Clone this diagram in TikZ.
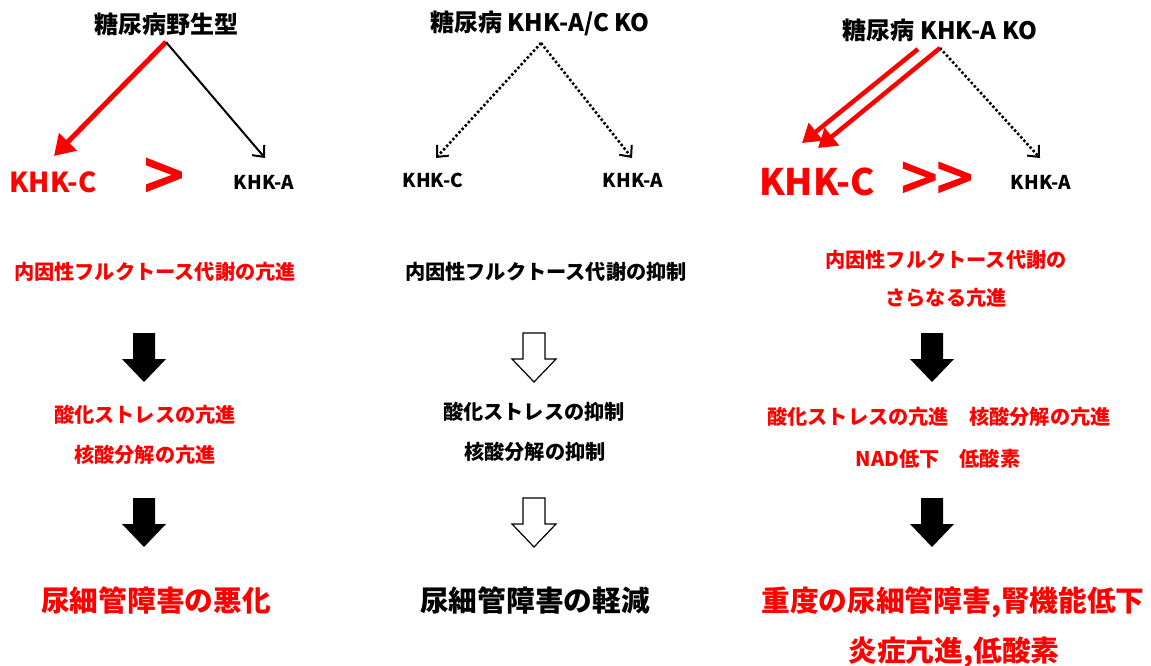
\documentclass[tikz,border=0pt]{standalone}
\usepackage{fontspec}
\setmainfont{Noto Sans CJK JP}
\newfontfamily\chev{Noto Sans CJK JP}[FakeBold=3]
\usetikzlibrary{arrows.meta}
\definecolor{pred}{RGB}{255,0,0}
\begin{document}
\begin{tikzpicture}[x=1pt,y=-1pt,
  every node/.style={inner sep=0pt,font=\bfseries},
  ttl/.style={font=\bfseries\fontsize{24}{28}\selectfont},
  rowr/.style={text=pred,font=\bfseries\fontsize{20.2}{24}\selectfont},
  rowb/.style={text=black,font=\bfseries\fontsize{20.2}{24}\selectfont},
  finr/.style={text=pred,font=\bfseries\fontsize{28.7}{32}\selectfont},
  finb/.style={text=black,font=\bfseries\fontsize{28.7}{32}\selectfont},
  khkbig/.style={text=pred,font=\bfseries\fontsize{27.5}{32}\selectfont},
  khkhuge/.style={text=pred,font=\bfseries\fontsize{36.5}{42}\selectfont},
  khksmall/.style={text=black,font=\bfseries\fontsize{19}{22}\selectfont},
  gtsign/.style={text=pred,font=\chev\fontsize{70}{72}\selectfont},
  gtsigns/.style={text=pred,font=\chev\fontsize{64}{66}\selectfont},
  redarrow/.style={draw=pred,line width=5pt,-{Triangle[length=20pt,width=24pt]}},
  redarrowb/.style={draw=pred,line width=4.5pt,-{Triangle[length=18pt,width=22pt]}},
  thinarrow/.style={draw=black,line width=2pt,-{Straight Barb[length=9pt,width=16pt]}},
  dotarrow/.style={draw=black,line width=2.6pt,dash pattern=on 2.4pt off 2.2pt,-{Straight Barb[length=9pt,width=16pt,line width=2pt]}},
  downarrow/.pic={\path[pic actions] (-11,0) -- (11,0) -- (11,26) -- (22,26) -- (0,49) -- (-22,26) -- (-11,26) -- cycle;},
  solidblk/.style={fill=black},
  hollowblk/.style={draw=black,line width=1.2pt,fill=white}
]
\useasboundingbox[fill=white] (0,0) rectangle (1151,666);

% titles
\node[ttl] (t1) at (166,24) {糖尿病野生型};
\node[ttl] (t2) at (540,23) {糖尿病 KHK-A/C KO};
\node[ttl] (t3) at (940,30) {糖尿病 KHK-A KO};

% KHK labels
\node[khkbig] (c1) at (53,182) {KHK-C};
\node[gtsign] (g1) at (164,180) {>};
\node[khksmall] (a1) at (264,182) {KHK-A};
\node[khksmall] (c2) at (433,180) {KHK-C};
\node[khksmall] (a2) at (633,180) {KHK-A};
\node[khkhuge] (c3) at (817,182) {KHK-C};
\node[gtsigns] (g3) at (937,182) {>>};
\node[khksmall] (a3) at (1041,182) {KHK-A};

% connector endpoints
\coordinate (s1) at (166,42);
\coordinate (e1c) at (54,156);
\coordinate (e1a) at (265,158);
\coordinate (s2) at (541,43);
\coordinate (e2c) at (436,158);
\coordinate (e2a) at (632,158);
\coordinate (s3a) at (918,49);
\coordinate (e3a) at (802,143);
\coordinate (s3b) at (940,48);
\coordinate (e3b) at (818,148);
\coordinate (e3k) at (1040,158);

\draw[redarrow] (s1) -- (e1c);
\draw[thinarrow] (s1) -- (e1a);
\draw[dotarrow] (s2) -- (e2c);
\draw[dotarrow] (s2) -- (e2a);
\draw[redarrowb] (s3a) -- (e3a);
\draw[redarrowb] (s3b) -- (e3b);
\draw[dotarrow] (s3b) -- (e3k);

% metabolism row
\node[rowr] (f1) at (155,272) {内因性フルクトース代謝の亢進};
\node[rowb] (f2) at (546,272) {内因性フルクトース代謝の抑制};
\node[rowr] (f3a) at (946,260) {内因性フルクトース代謝の};
\node[rowr] (f3b) at (946,298) {さらなる亢進};

% block arrows 1
\pic[solidblk] at (144,333) {downarrow};
\pic[hollowblk] at (534,333) {downarrow};
\pic[solidblk] at (932,333) {downarrow};

% stress row
\node[rowr] (o1a) at (145,415) {酸化ストレスの亢進};
\node[rowr] (o1b) at (145,455) {核酸分解の亢進};
\node[rowb] (o2a) at (534,412) {酸化ストレスの抑制};
\node[rowb] (o2b) at (535,452) {核酸分解の抑制};
\node[rowr] (o3a) at (939,417) {酸化ストレスの亢進　核酸分解の亢進};
\node[rowr] (o3b) at (938,459) {NAD低下　低酸素};

% block arrows 2
\pic[solidblk] at (144,498) {downarrow};
\pic[hollowblk] at (534,498) {downarrow};
\pic[solidblk] at (932,498) {downarrow};

% outcome row
\node[finr] (r1) at (156,600) {尿細管障害の悪化};
\node[finb] (r2) at (535,600) {尿細管障害の軽減};
\node[finr] (r3a) at (953,602) {重度の尿細管障害,腎機能低下};
\node[finr] (r3b) at (954,652) {炎症亢進,低酸素};
\end{tikzpicture}
\end{document}
